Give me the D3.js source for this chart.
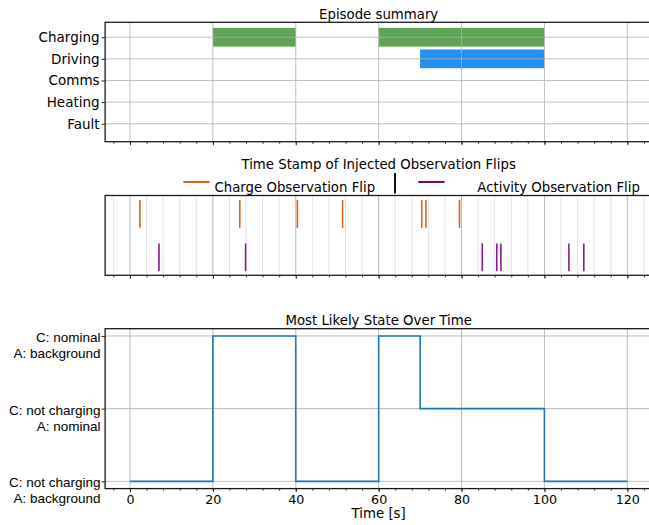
<!DOCTYPE html>
<html>
<head>
<meta charset="utf-8">
<script src="https://cdn.jsdelivr.net/npm/d3@7"></script>
<style>
body { margin: 0; background: #fff; }
svg { display: block; }
</style>
</head>
<body>
<div id="chart"></div>
<script>
// shared time axis
const timeTicks = [0, 20, 40, 60, 80, 100, 120]
const minorTimeTicks = [-4, 0, 4, 8, 12, 16, 20, 24, 28, 32, 36, 40, 44, 48, 52, 56, 60, 64,
    68, 72, 76, 80, 84, 88, 92, 96, 100, 104, 108, 112, 116, 120, 124]

// episode summary
const activities = ["Charging", "Driving", "Comms", "Heating", "Fault"]
const episodeActivity = ["Charging", "Charging", "Driving"]
const episodeStart = [20, 60, 70]
const episodeEnd = [40, 100, 100]

// injected flips
const chargeFlipTimes = [2.4, 26.5, 40.4, 51.3, 70.4, 71.4, 79.5]
const activityFlipTimes = [7.0, 27.9, 85.0, 88.5, 89.5, 105.9, 109.5]

// most likely state
const stateTimes = [0, 20, 40, 60, 70, 100, 120]
const stateIndex = [0, 2, 0, 2, 1, 0, 0]
const stateLabels = [
    ["C: not charging", "A: background"],
    ["C: not charging", "A: nominal"],
    ["C: nominal", "A: background"]
]

const width = 649
const height = 525
const left = 105.1
const right = 652.2   // right spine falls just outside the picture

const svg = d3.select("#chart")
    .append("svg")
    .attr("width", width)
    .attr("height", height)
    .style("font-family", "DejaVu Sans")

const xScale = d3.scaleLinear().domain([-6, 126]).range([left, right])

function bottomTicks(g, y, withLabels) {
    const minor = g.append("g")
        .attr("transform", `translate(0, ${y})`)
        .call(d3.axisBottom(xScale).tickValues(minorTimeTicks).tickFormat("").tickSize(2).tickSizeOuter(0))
        .call(a => a.select(".domain").remove())
    minor.selectAll("line").attr("stroke", "#222")
    const major = g.append("g")
        .attr("transform", `translate(0, ${y})`)
        .call(d3.axisBottom(xScale).tickValues(timeTicks).tickSize(3.5).tickSizeOuter(0).tickPadding(3)
            .tickFormat(withLabels ? d3.format("d") : ""))
        .call(a => a.select(".domain").remove())
    major.selectAll("line").attr("stroke", "#222").attr("stroke-width", 1)
    major.selectAll("text")
        .style("font-family", "DejaVu Sans")
        .style("font-size", "12.7px")
        .attr("fill", "#000")
}

function spines(g, top, bottom) {
    g.append("rect")
        .attr("x", left)
        .attr("y", top)
        .attr("width", right - left)
        .attr("height", bottom - top)
        .attr("fill", "none")
        .attr("stroke", "#1a1a1a")
        .attr("stroke-width", 1.3)
}

function title(text, y) {
    svg.append("text")
        .attr("x", (left + right) / 2)
        .attr("y", y)
        .attr("text-anchor", "middle")
        .style("font-size", "13.3px")
        .text(text)
}

// ---------- Episode summary ----------
const top1 = 22.3, bottom1 = 141.7
const yAct = d3.scaleLinear().domain([-0.69, 4.83]).range([top1, bottom1])
const p1 = svg.append("g")

const episodes = episodeActivity.map((a, i) => ({ a, start: episodeStart[i], end: episodeEnd[i] }))
const barColor = { Charging: "#5da554", Driving: "#2390f2" }

p1.selectAll("rect.bar")
    .data(episodes)
    .enter()
    .append("rect")
    .attr("class", "bar")
    .attr("x", d => xScale(d.start))
    .attr("width", d => xScale(d.end) - xScale(d.start))
    .attr("y", d => yAct(activities.indexOf(d.a) - 0.433))
    .attr("height", yAct(0.866) - yAct(0))
    .attr("fill", d => barColor[d.a])

p1.selectAll("line.vgrid")
    .data(timeTicks)
    .enter()
    .append("line")
    .attr("x1", d => xScale(d)).attr("x2", d => xScale(d))
    .attr("y1", top1).attr("y2", bottom1)
    .attr("stroke", "#b0b0b0").attr("stroke-opacity", 0.8)
p1.selectAll("line.hgrid")
    .data(activities)
    .enter()
    .append("line")
    .attr("x1", left).attr("x2", right)
    .attr("y1", (d, i) => yAct(i)).attr("y2", (d, i) => yAct(i))
    .attr("stroke", "#b0b0b0").attr("stroke-opacity", 0.8)

const yAxis1 = p1.append("g")
    .attr("transform", `translate(${left}, 0)`)
    .call(d3.axisLeft(yAct).tickValues(d3.range(activities.length)).tickFormat(i => activities[i])
        .tickSize(3.5).tickPadding(2).tickSizeOuter(0))
    .call(a => a.select(".domain").remove())
yAxis1.selectAll("line").attr("stroke", "#222")
yAxis1.selectAll("text")
    .style("font-family", "DejaVu Sans")
    .style("font-size", "13.5px")
    .attr("fill", "#000")

bottomTicks(p1, bottom1, false)
spines(p1, top1, bottom1)
title("Episode summary", 18.5)

// ---------- Injected observation flips ----------
const top2 = 195.5, bottom2 = 275.3
const yFlip = d3.scaleLinear().domain([1.424, -0.415]).range([top2, bottom2])
const p2 = svg.append("g")

p2.selectAll("line.minor")
    .data(minorTimeTicks.filter(t => !timeTicks.includes(t)))
    .enter()
    .append("line")
    .attr("x1", d => xScale(d)).attr("x2", d => xScale(d))
    .attr("y1", top2).attr("y2", bottom2)
    .attr("stroke", "#e3e3e3")
p2.selectAll("line.major")
    .data(timeTicks)
    .enter()
    .append("line")
    .attr("x1", d => xScale(d)).attr("x2", d => xScale(d))
    .attr("y1", top2).attr("y2", bottom2)
    .attr("stroke", "#b8b8b8")

const flipRows = [
    { times: chargeFlipTimes, offset: 1, color: "#d2691e" },
    { times: activityFlipTimes, offset: 0, color: "#8b1a8b" }
]
flipRows.forEach(row => {
    p2.selectAll(null)
        .data(row.times)
        .enter()
        .append("line")
        .attr("x1", d => xScale(d)).attr("x2", d => xScale(d))
        .attr("y1", yFlip(row.offset + 0.32))
        .attr("y2", yFlip(row.offset - 0.32))
        .attr("stroke", row.color)
        .attr("stroke-width", 1.6)
})

bottomTicks(p2, bottom2, false)
spines(p2, top2, bottom2)
title("Time Stamp of Injected Observation Flips", 168.5)

// legend
const legend = svg.append("g").style("font-size", "13.3px")
legend.append("line").attr("x1", 183.3).attr("x2", 209.5).attr("y1", 182).attr("y2", 182)
    .attr("stroke", "#d2691e").attr("stroke-width", 2)
legend.append("text").attr("x", 214.5).attr("y", 192.3).text("Charge Observation Flip")
legend.append("line").attr("x1", 395).attr("x2", 395).attr("y1", 173).attr("y2", 193.5)
    .attr("stroke", "#111").attr("stroke-width", 2)
legend.append("line").attr("x1", 418.3).attr("x2", 444.5).attr("y1", 182).attr("y2", 182)
    .attr("stroke", "#800080").attr("stroke-width", 2)
legend.append("text").attr("x", 477.3).attr("y", 192.3).text("Activity Observation Flip")

// ---------- Most likely state ----------
const top3 = 328.7, bottom3 = 488.6
const yState = d3.scaleLinear().domain([-0.1, 2.1]).range([bottom3, top3])
const p3 = svg.append("g")

p3.selectAll("line.vgrid")
    .data(timeTicks)
    .enter()
    .append("line")
    .attr("x1", d => xScale(d)).attr("x2", d => xScale(d))
    .attr("y1", top3).attr("y2", bottom3)
    .attr("stroke", "#b0b0b0").attr("stroke-opacity", 0.85)
p3.selectAll("line.hgrid")
    .data(stateLabels)
    .enter()
    .append("line")
    .attr("x1", left).attr("x2", right)
    .attr("y1", (d, i) => yState(i)).attr("y2", (d, i) => yState(i))
    .attr("stroke", "#b0b0b0").attr("stroke-opacity", 0.85)

const stateData = stateTimes.map((t, i) => ({ t, s: stateIndex[i] }))
const line = d3.line()
    .x(d => xScale(d.t))
    .y(d => yState(d.s))
    .curve(d3.curveStepAfter)
p3.append("path")
    .datum(stateData)
    .attr("d", line)
    .attr("fill", "none")
    .attr("stroke", "#1f77b4")
    .attr("stroke-width", 1.6)

const yAxis3 = p3.append("g")
    .attr("transform", `translate(${left}, 0)`)
    .call(d3.axisLeft(yState).tickValues(d3.range(stateLabels.length)).tickFormat("")
        .tickSize(3.5).tickSizeOuter(0))
    .call(a => a.select(".domain").remove())
yAxis3.selectAll("line").attr("stroke", "#222")
yAxis3.selectAll(".tick")
    .append("text")
    .attr("x", -4.5)
    .attr("text-anchor", "end")
    .attr("fill", "#000")
    .style("font-family", "Liberation Sans")
    .style("font-size", "13.5px")
    .each(function(i) {
        const t = d3.select(this)
        stateLabels[i].forEach((s, k) => {
            t.append("tspan").attr("x", -4.5).attr("y", 5.5 + k * 16).text(s)
        })
    })

bottomTicks(p3, bottom3, true)
spines(p3, top3, bottom3)
title("Most Likely State Over Time", 324.7)

svg.append("text")
    .attr("x", (left + right) / 2)
    .attr("y", 518)
    .attr("text-anchor", "middle")
    .style("font-size", "13.3px")
    .text("Time [s]")
</script>
</body>
</html>
